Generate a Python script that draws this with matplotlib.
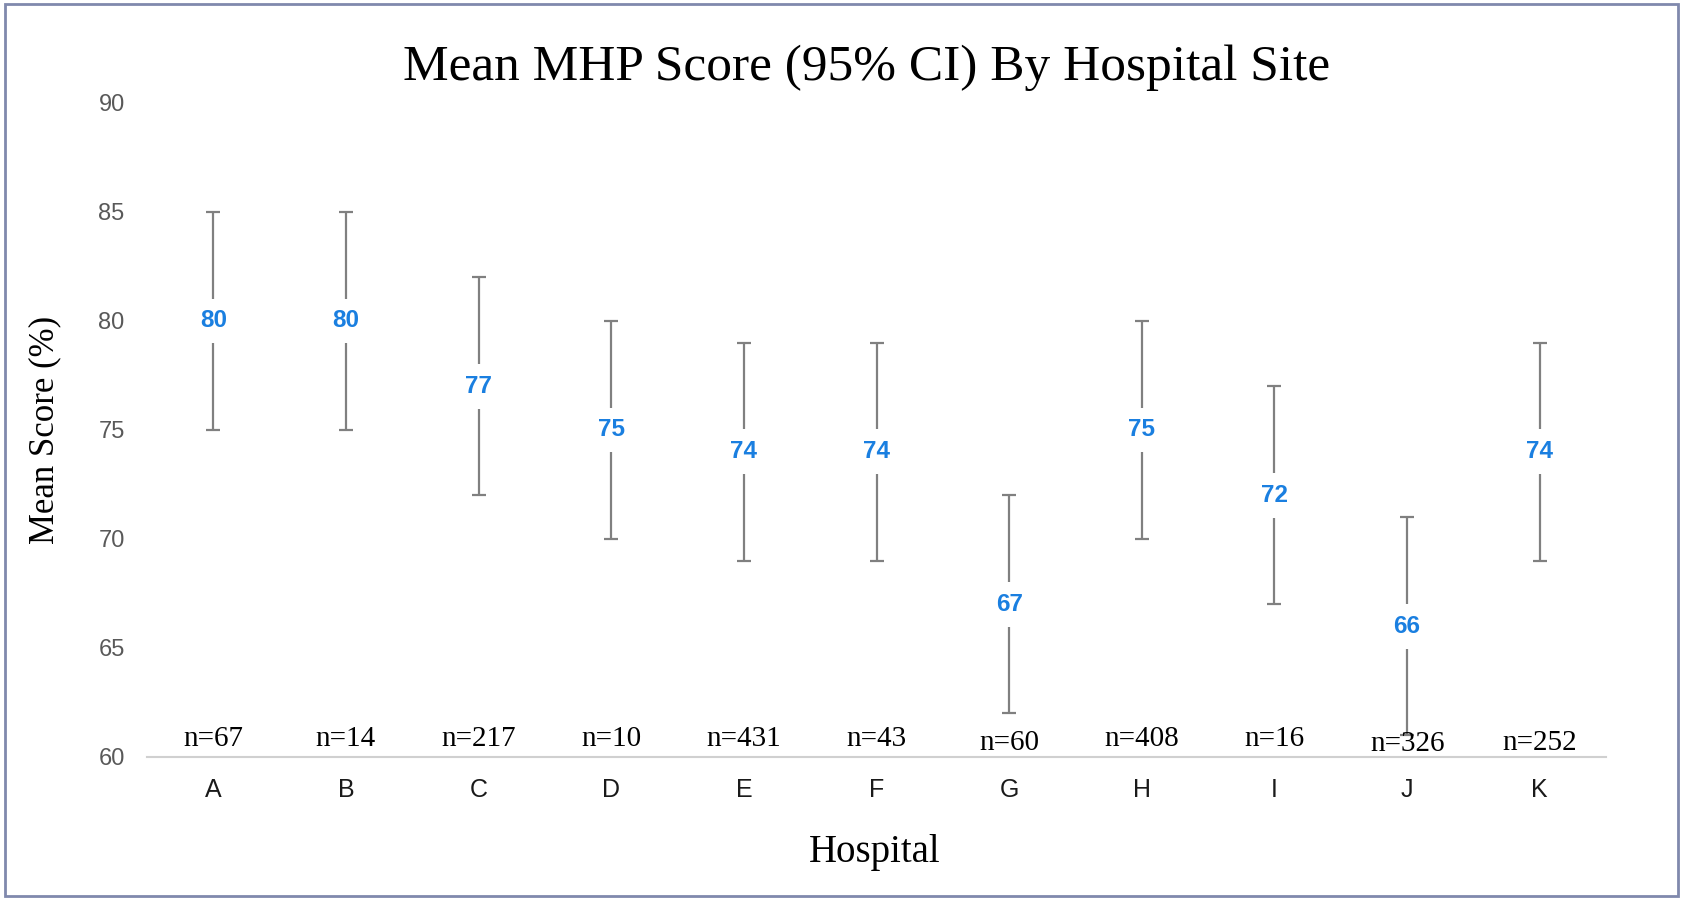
import numpy as np
import matplotlib
matplotlib.use("Agg")
import matplotlib.pyplot as plt
from matplotlib.patches import Rectangle

# data
hospitals = ["A", "B", "C", "D", "E", "F", "G", "H", "I", "J", "K"]
mean_score = [80, 80, 77, 75, 74, 74, 67, 75, 72, 66, 74]
ci_low = [75, 75, 72, 70, 69, 69, 62, 70, 67, 61, 69]
ci_high = [85, 85, 82, 80, 79, 79, 72, 80, 77, 71, 79]
n_sites = [67, 14, 217, 10, 431, 43, 60, 408, 16, 326, 252]

serif = "Liberation Serif"
sans = "Liberation Sans"

fig = plt.figure(figsize=(16.83, 9.0), dpi=100)
ax = fig.add_axes([0.0873, 0.1589, 0.867, 0.7267])

x = np.arange(len(hospitals))
mean = np.array(mean_score)
yerr = np.vstack([mean - np.array(ci_low), np.array(ci_high) - mean])

ax.errorbar(x, mean, yerr=yerr, fmt="none", ecolor="#808080",
            elinewidth=1.6, capsize=5, capthick=1.6, zorder=2)

# mean labels sit on the bar with a white box cutting the line
for xi, m in zip(x, mean_score):
    ax.text(xi, m, f"{m}", ha="center", va="center", fontsize=17.5,
            fontweight="bold", color="#1a7fe0", family=sans, zorder=3,
            bbox=dict(boxstyle="square,pad=0.45", fc="white", ec="none"))

# sample sizes just above the baseline
n_y = [60.83, 60.83, 60.83, 60.83, 60.83, 60.83, 60.62, 60.83, 60.83, 60.6, 60.62]
for xi, n, yy in zip(x, n_sites, n_y):
    ax.text(xi, yy, f"n={n}", ha="center", va="center", fontsize=21,
            family=serif, color="black", zorder=4)

ax.set_xlim(-0.5, len(hospitals) - 0.5)
ax.set_ylim(60, 90)
ax.set_yticks(np.arange(60, 91, 5))
ax.set_xticks(x)
ax.set_xticklabels(hospitals)

for lab in ax.get_yticklabels():
    lab.set_family(sans)
    lab.set_fontsize(17)
    lab.set_color("#595959")
for lab in ax.get_xticklabels():
    lab.set_family(sans)
    lab.set_fontsize(18)
    lab.set_color("#1a1a1a")

ax.tick_params(axis="both", length=0)
ax.tick_params(axis="y", pad=16)
ax.tick_params(axis="x", pad=15)

for side in ["top", "right", "left"]:
    ax.spines[side].set_visible(False)
ax.spines["bottom"].set_color("#d0d0d0")
ax.spines["bottom"].set_linewidth(1.5)

fig.text(867 / 1683, 1 - 80 / 900, "Mean MHP Score (95% CI) By Hospital Site",
         ha="center", va="baseline", fontsize=37, family=serif)
fig.text(45 / 1683, 1 - 430 / 900, "Mean Score (%)", ha="center", va="center",
         rotation=90, fontsize=25, family=serif)
fig.text(875 / 1683, 1 - 862 / 900, "Hospital", ha="center", va="baseline",
         fontsize=28, family=serif)

# frame around the whole picture
fig.patches.append(Rectangle((0.003, 0.004), 0.994, 0.992, transform=fig.transFigure,
                             fill=False, edgecolor="#8089ad", linewidth=2))

fig.savefig("out.png", dpi=100)
